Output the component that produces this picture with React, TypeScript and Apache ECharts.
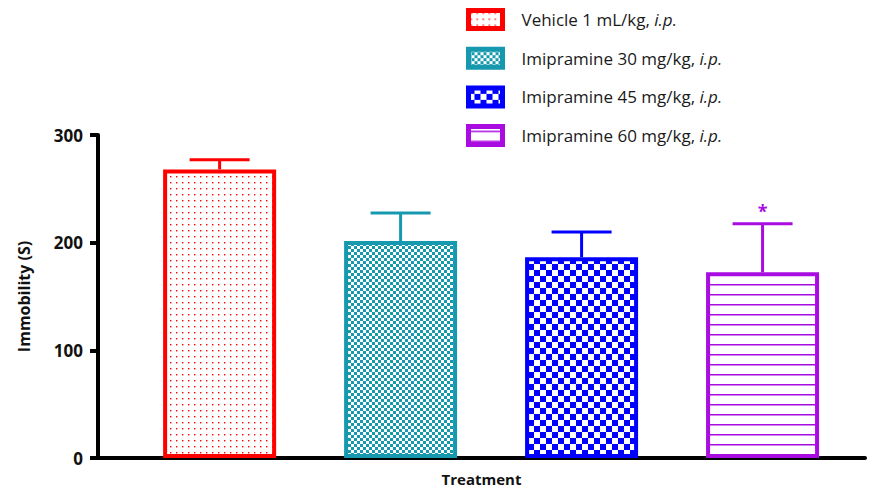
import React, { useEffect, useRef } from "react";
import * as echarts from "echarts";

const categories = [
  "Vehicle 1 mL/kg, i.p.",
  "Imipramine 30 mg/kg, i.p.",
  "Imipramine 45 mg/kg, i.p.",
  "Imipramine 60 mg/kg, i.p.",
];
const means = [268, 201.5, 186.5, 172.5];
const errors = [9, 26, 23.5, 45];
const significance = ["", "", "", "*"];
const colors = ["#FF0000", "#1699AF", "#0000FF", "#A80CE0"];
const patternKinds = ["dots", "fineChecker", "checker", "hlines"];

const FONT = '"Open Sans", "DejaVu Sans", sans-serif';

function makePattern(kind: string, color: string) {
  const c = document.createElement("canvas");
  let w = 6;
  let h = 6;
  if (kind === "checker") { w = 12; h = 12; }
  if (kind === "hlines") { w = 10; h = 10; }
  c.width = w;
  c.height = h;
  const ctx = c.getContext("2d")!;
  ctx.fillStyle = "#ffffff";
  ctx.fillRect(0, 0, w, h);
  ctx.fillStyle = color;
  if (kind === "dots") {
    ctx.fillRect(2, 2, 1.4, 1.4);
  } else if (kind === "fineChecker") {
    ctx.fillRect(0, 0, 3, 3);
    ctx.fillRect(3, 3, 3, 3);
  } else if (kind === "checker") {
    ctx.fillRect(0, 0, 6, 6);
    ctx.fillRect(6, 6, 6, 6);
  } else if (kind === "hlines") {
    ctx.fillRect(0, 4, 10, 1.5);
  }
  return { image: c, repeat: "repeat" };
}

export default function App() {
  const ref = useRef<HTMLDivElement>(null);

  useEffect(() => {
    if (!ref.current) return;
    const chart = echarts.init(ref.current, null, { renderer: "svg" });

    const barSeries = categories.map((name, i) => ({
      type: "bar",
      name,
      data: [[i, means[i]]],
      barWidth: 113,
      barGap: "-100%",
      itemStyle: {
        color: makePattern(patternKinds[i], colors[i]),
        borderColor: colors[i],
        borderWidth: 4,
      },
      z: 2,
    }));

    const errorSeries = {
      type: "custom",
      name: "error",
      data: means.map((m, i) => [i, m, errors[i]]),
      encode: { x: 0, y: 1 },
      z: 3,
      renderItem: (params: any, api: any) => {
        const idx = params.dataIndex;
        const x = api.value(0);
        const m = api.value(1);
        const e = api.value(2);
        const base = api.coord([x, m]);
        const top = api.coord([x, m + e]);
        const half = 30;
        const color = colors[idx];
        const children: any[] = [
          {
            type: "line",
            shape: { x1: base[0], y1: base[1], x2: top[0], y2: top[1] },
            style: { stroke: color, lineWidth: 3 },
          },
          {
            type: "line",
            shape: { x1: top[0] - half, y1: top[1], x2: top[0] + half, y2: top[1] },
            style: { stroke: color, lineWidth: 3 },
          },
        ];
        if (significance[idx]) {
          children.push({
            type: "text",
            x: top[0],
            y: top[1] - 13,
            style: {
              text: significance[idx],
              fill: color,
              font: `bold 18px ${FONT}`,
              align: "center",
              verticalAlign: "middle",
            },
          });
        }
        return { type: "group", children };
      },
    };

    chart.setOption({
      animation: false,
      textStyle: { fontFamily: FONT },
      grid: { left: 98, right: 15, top: 135, bottom: 35, containLabel: false },
      legend: {
        data: categories,
        orient: "vertical",
        left: 461,
        top: 3,
        itemWidth: 34,
        itemHeight: 18,
        itemGap: 15.7,
        icon: "rect",
        selectedMode: false,
        itemStyle: { borderWidth: 5 },
        formatter: (name: string) => {
          const base = name.replace(/i\.p\.$/, "");
          return `{n|${base}}{i|i.p.}`;
        },
        textStyle: {
          padding: [0, 0, 0, 14],
          rich: {
            n: { fontSize: 17, color: "#1a1a1a", fontFamily: FONT },
            i: { fontSize: 17, color: "#1a1a1a", fontStyle: "italic", fontFamily: FONT },
          },
        },
      },
      xAxis: {
        type: "value",
        min: -0.672,
        max: 3.566,
        name: "Treatment",
        nameLocation: "middle",
        nameGap: 13,
        nameTextStyle: { fontWeight: "bold", fontSize: 15, color: "#111", fontFamily: FONT, lineHeight: 16 },
        axisLine: { show: true, onZero: false, lineStyle: { color: "#000", width: 4 } },
        axisTick: { show: false },
        axisLabel: { show: false },
        splitLine: { show: false },
      },
      yAxis: {
        type: "value",
        min: 0,
        max: 300,
        interval: 100,
        name: "Immobility (S)",
        nameLocation: "middle",
        nameGap: 66,
        nameTextStyle: { fontWeight: "bold", fontSize: 16, color: "#111", fontFamily: FONT },
        axisLine: { show: true, onZero: false, lineStyle: { color: "#000", width: 4 } },
        axisTick: { show: true, length: 8, lineStyle: { color: "#000", width: 4 } },
        axisLabel: { fontWeight: "bold", fontSize: 17, color: "#111", margin: 15, fontFamily: FONT },
        splitLine: { show: false },
      },
      series: [...barSeries, errorSeries],
    } as any);

    return () => chart.dispose();
  }, []);

  return <div ref={ref} style={{ width: 880, height: 493, margin: -8 }} />;
}
